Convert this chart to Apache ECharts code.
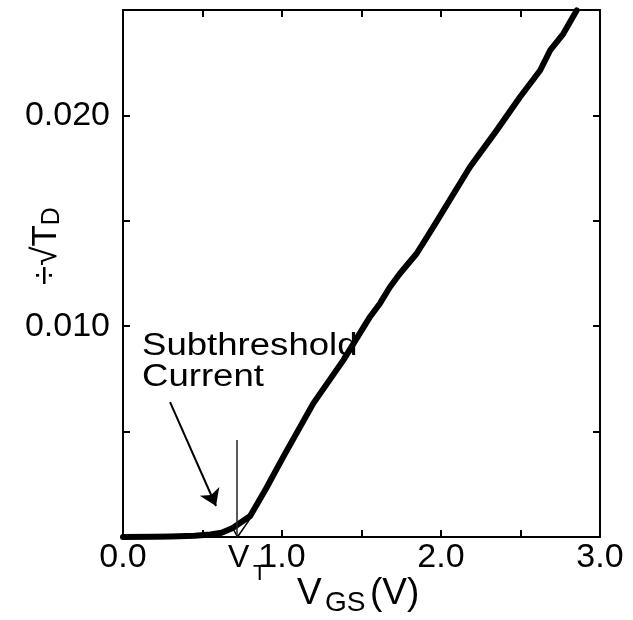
<!DOCTYPE html>
<html>
<head>
<meta charset="utf-8">
<script src="https://cdn.jsdelivr.net/npm/echarts@6/dist/echarts.min.js"></script>
<style>
  html, body { margin: 0; padding: 0; background: #fff; }
  #chart { width: 633px; height: 620px; }
</style>
</head>
<body>
<div id="chart"></div>
<script>
// measured curve: V_GS (V) vs sqrt(I_D)
const vgs = [0.00, 0.20, 0.30, 0.45, 0.55, 0.62, 0.69, 0.80, 0.90, 1.008, 1.197, 1.386, 1.553, 1.616, 1.679, 1.742, 1.847, 1.952, 2.182, 2.350, 2.497, 2.623, 2.686, 2.769, 2.853]
const sqrtId = [0, 0.00001, 0.00002, 0.00006, 0.00012, 0.0002, 0.00043, 0.0010, 0.0023, 0.0038, 0.00634, 0.00839, 0.01044, 0.01108, 0.01186, 0.0125, 0.01345, 0.01471, 0.01755, 0.01929, 0.02087, 0.02213, 0.02308, 0.02387, 0.02498]

// extrapolated line down to V_T
const extrapX = [0.69, 0.72, 0.82]
const extrapY = [0.00043, 0, 0.0011]

// V_T marker
const vtX = [0.717, 0.717]
const vtY = [0, 0.0046]

// annotation arrow (from, to)
const arrowFrom = [0.296, 0.0064]
const arrowTo = [0.585, 0.00147]

// tick labels
const xLabelled = [0, 1, 2, 3]
const yLabelled = [0.010, 0.020]

const zip = (a, b) => a.map((v, i) => [v, b[i]])
const font = '"Liberation Sans", Arial, Helvetica, sans-serif'

const chart = echarts.init(document.getElementById('chart'))

const axisCommon = {
  axisLine: { show: true, onZero: false, lineStyle: { color: '#000', width: 2 } },
  axisTick: { show: true, inside: true, length: 7, lineStyle: { color: '#000', width: 2 } },
  splitLine: { show: false }
}

chart.setOption({
  animation: false,
  backgroundColor: '#fff',
  grid: { left: 123, right: 33, top: 10, bottom: 83 },
  xAxis: [
    Object.assign({
      type: 'value', min: 0, max: 3, interval: 0.5, position: 'bottom',
      axisLabel: {
        color: '#000', fontSize: 34, fontFamily: font, margin: 4,
        formatter: v => xLabelled.some(t => Math.abs(t - v) < 1e-9) ? v.toFixed(1) : ''
      }
    }, axisCommon),
    Object.assign({
      type: 'value', min: 0, max: 3, interval: 0.5, position: 'top',
      axisLabel: { show: false }
    }, axisCommon)
  ],
  yAxis: [
    Object.assign({
      type: 'value', min: 0, max: 0.025, interval: 0.005, position: 'left',
      axisLabel: {
        color: '#000', fontSize: 34, fontFamily: font, margin: 13,
        formatter: v => yLabelled.some(t => Math.abs(t - v) < 1e-9) ? v.toFixed(3) : ''
      }
    }, axisCommon),
    Object.assign({
      type: 'value', min: 0, max: 0.025, interval: 0.005, position: 'right',
      axisLabel: { show: false }
    }, axisCommon)
  ],
  series: [
    {
      name: 'sqrt ID',
      type: 'line',
      data: zip(vgs, sqrtId),
      symbol: 'none',
      lineStyle: { color: '#000', width: 6, cap: 'round', join: 'round' },
      silent: true
    },
    {
      name: 'extrapolation',
      type: 'line',
      data: zip(extrapX, extrapY),
      symbol: 'none',
      lineStyle: { color: '#000', width: 1.5 },
      silent: true
    },
    {
      name: 'VT',
      type: 'line',
      data: zip(vtX, vtY),
      symbol: 'none',
      lineStyle: { color: '#222', width: 1.5 },
      silent: true,
      markLine: {
        silent: true,
        symbol: ['none', 'arrow'],
        symbolSize: 16,
        label: { show: false },
        lineStyle: { color: '#000', width: 2, type: 'solid' },
        data: [[{ coord: arrowFrom }, { coord: arrowTo }]]
      }
    }
  ],
  graphic: [
    { type: 'text', x: 142, y: 346, scaleX: 1.18, style: { text: 'Subthreshold', font: '31px ' + font, fill: '#000', verticalAlign: 'middle' } },
    { type: 'text', x: 142, y: 377, scaleX: 1.18, style: { text: 'Current', font: '31px ' + font, fill: '#000', verticalAlign: 'middle' } },
    { type: 'text', x: 228, y: 558, style: { text: 'V', font: '32px ' + font, fill: '#000', verticalAlign: 'middle' } },
    { type: 'text', x: 253, y: 574, style: { text: 'T', font: '22px ' + font, fill: '#000', verticalAlign: 'middle' } },
    { type: 'text', x: 297, y: 594, style: { text: 'V', font: '37px ' + font, fill: '#000', verticalAlign: 'middle' } },
    { type: 'text', x: 325, y: 603, style: { text: 'GS', font: '28px ' + font, fill: '#000', verticalAlign: 'middle' } },
    { type: 'text', x: 370, y: 594, style: { text: '(V)', font: '37px ' + font, fill: '#000', verticalAlign: 'middle' } },
    {
      type: 'text', x: 46, y: 246, rotation: Math.PI / 2,
      style: {
        text: '÷√T{d|D}', font: '35px ' + font, fill: '#000', align: 'center', verticalAlign: 'middle',
        rich: { d: { fontSize: 25, fontFamily: font, fill: '#000', padding: [12, 0, 0, 0] } }
      }
    }
  ]
})
</script>
</body>
</html>
